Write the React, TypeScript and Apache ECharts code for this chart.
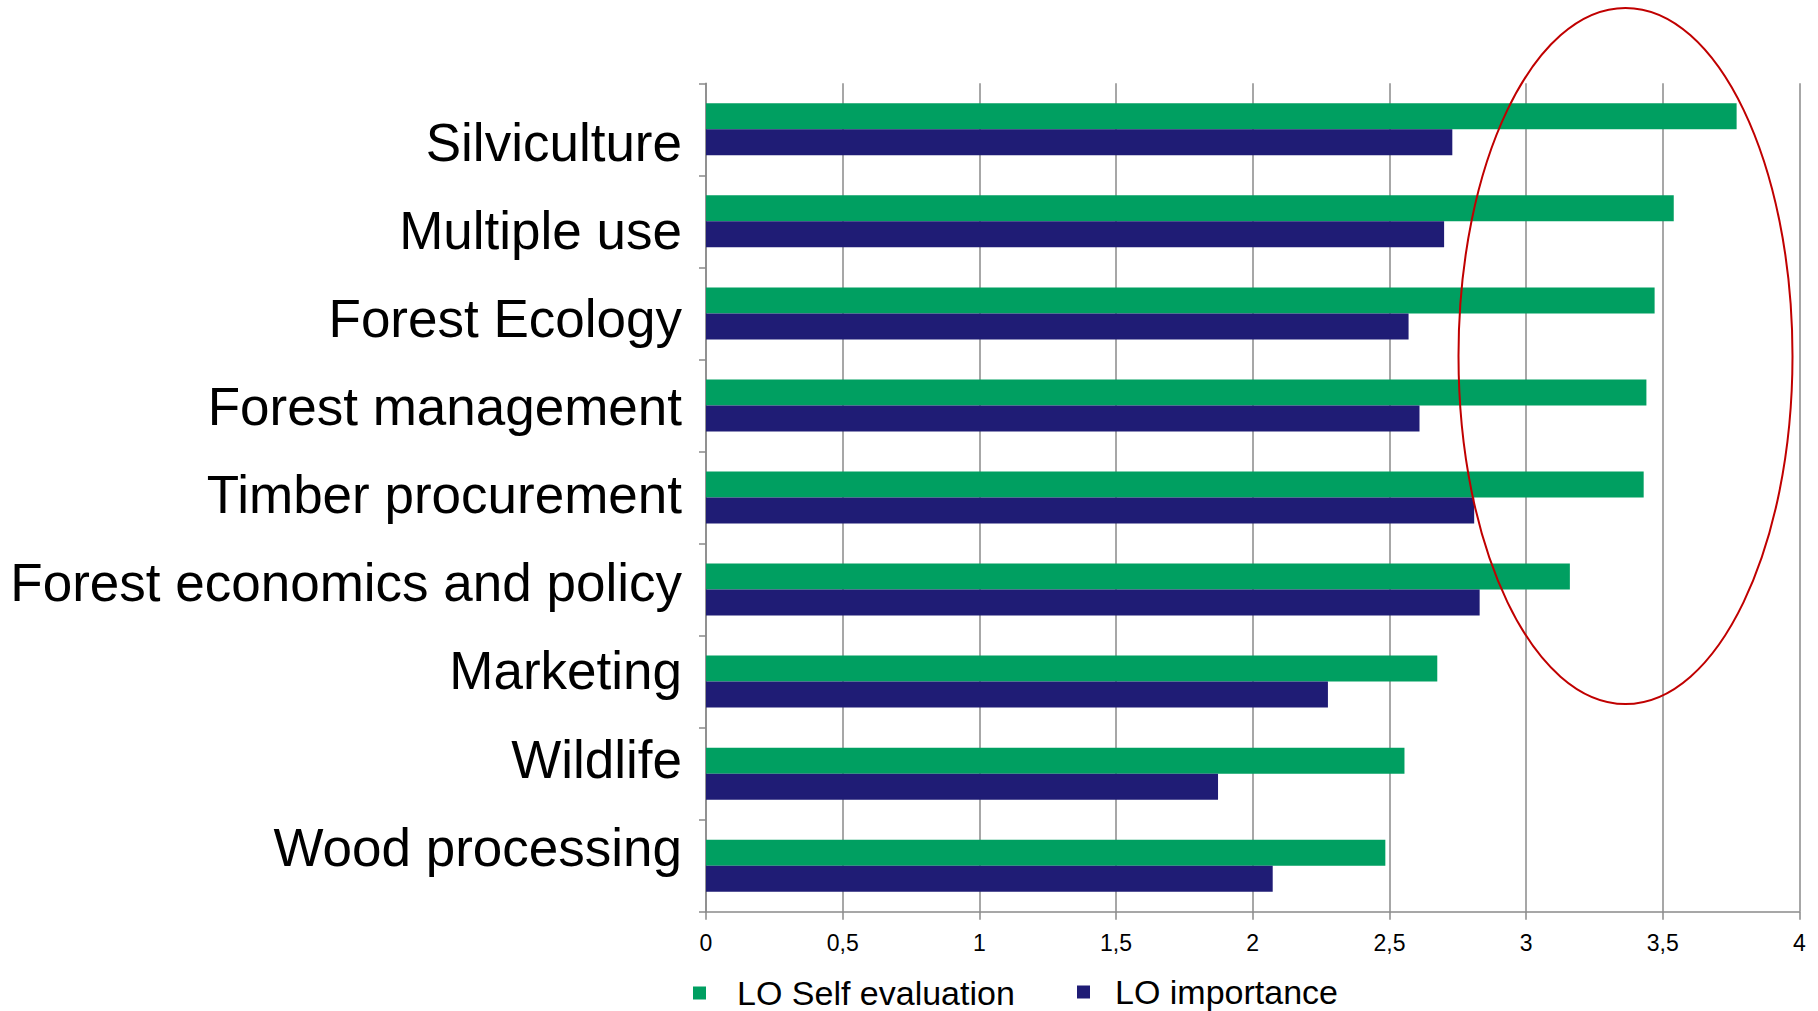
import React, { useEffect, useRef } from "react";
import * as echarts from "echarts";

const categories = [
  "Silviculture",
  "Multiple use",
  "Forest Ecology",
  "Forest management",
  "Timber procurement",
  "Forest economics and policy",
  "Marketing",
  "Wildlife",
  "Wood processing",
];
const selfEvaluation = [3.77, 3.54, 3.47, 3.44, 3.43, 3.16, 2.675, 2.555, 2.485];
const importance = [2.73, 2.7, 2.57, 2.61, 2.81, 2.83, 2.275, 1.873, 2.073];
const seriesNames = ["LO Self evaluation", "LO importance"];

const GREEN = "#009F61";
const BLUE = "#1F1C75";
const GRAY = "#8a8a8a";
const FONT = "'Liberation Sans', Arial, sans-serif";

export default function App() {
  const ref = useRef<HTMLDivElement>(null);
  useEffect(() => {
    const chart = echarts.init(ref.current!, undefined, { renderer: "svg" });
    chart.setOption({
      animation: false,
      backgroundColor: "#ffffff",
      textStyle: { fontFamily: FONT },
      grid: [
        { left: 706, right: 18.5, top: 83.3, bottom: 99.3, containLabel: false },
        { left: 706, right: 18.5, top: 98.3, bottom: 119.8, containLabel: false },
      ],
      xAxis: [
        {
          type: "value",
          gridIndex: 0,
          min: 0,
          max: 4,
          interval: 0.5,
          axisLine: { show: true, lineStyle: { color: GRAY, width: 1.5 } },
          axisTick: { show: true, length: 8, lineStyle: { color: GRAY, width: 1.5 } },
          splitLine: { show: true, lineStyle: { color: GRAY, width: 1.5 } },
          axisLabel: {
            color: "#000",
            fontSize: 23,
            fontFamily: FONT,
            margin: 20,
            formatter: (v: number) => String(v).replace(".", ","),
          },
        },
        {
          type: "value",
          gridIndex: 1,
          show: false,
          min: 0,
          max: 4,
        },
      ],
      yAxis: [
        {
          type: "category",
          gridIndex: 0,
          inverse: true,
          data: categories,
          axisLine: { show: true, lineStyle: { color: GRAY, width: 1.5 } },
          axisTick: { show: true, length: 7, lineStyle: { color: GRAY, width: 1.5 } },
          axisLabel: { show: false },
          splitLine: { show: false },
        },
        {
          type: "category",
          gridIndex: 1,
          inverse: true,
          data: categories,
          axisLine: { show: false },
          axisTick: { show: false },
          splitLine: { show: false },
          axisLabel: {
            show: true,
            color: "#000",
            fontSize: 53,
            fontFamily: FONT,
            margin: 24,
          },
        },
      ],
      legend: [
        {
          data: [seriesNames[0]],
          left: 693,
          top: 976,
          padding: 0,
          itemWidth: 13,
          itemHeight: 13,
          icon: "rect",
          textStyle: { fontSize: 34, color: "#000", fontFamily: FONT, padding: [0, 0, 0, 26] },
        },
        {
          data: [seriesNames[1]],
          left: 1077,
          top: 975,
          padding: 0,
          itemWidth: 13,
          itemHeight: 13,
          icon: "rect",
          textStyle: { fontSize: 34, color: "#000", fontFamily: FONT, padding: [0, 0, 0, 20] },
        },
      ],
      series: [
        {
          name: seriesNames[0],
          type: "bar",
          xAxisIndex: 0,
          yAxisIndex: 0,
          data: selfEvaluation,
          barWidth: 26,
          barGap: "0%",
          itemStyle: { color: GREEN },
        },
        {
          name: seriesNames[1],
          type: "bar",
          xAxisIndex: 0,
          yAxisIndex: 0,
          data: importance,
          barWidth: 26,
          barGap: "0%",
          itemStyle: { color: BLUE },
        },
      ],
      graphic: [
        {
          type: "ellipse",
          shape: { cx: 1625.5, cy: 356, rx: 167, ry: 348 },
          style: { fill: "none", stroke: "#C00000", lineWidth: 2 },
          z: 100,
        },
      ],
    });
    return () => chart.dispose();
  }, []);
  return (
    <div
      ref={ref}
      style={{ position: "fixed", left: 0, top: 0, width: 1818, height: 1011 }}
    />
  );
}
